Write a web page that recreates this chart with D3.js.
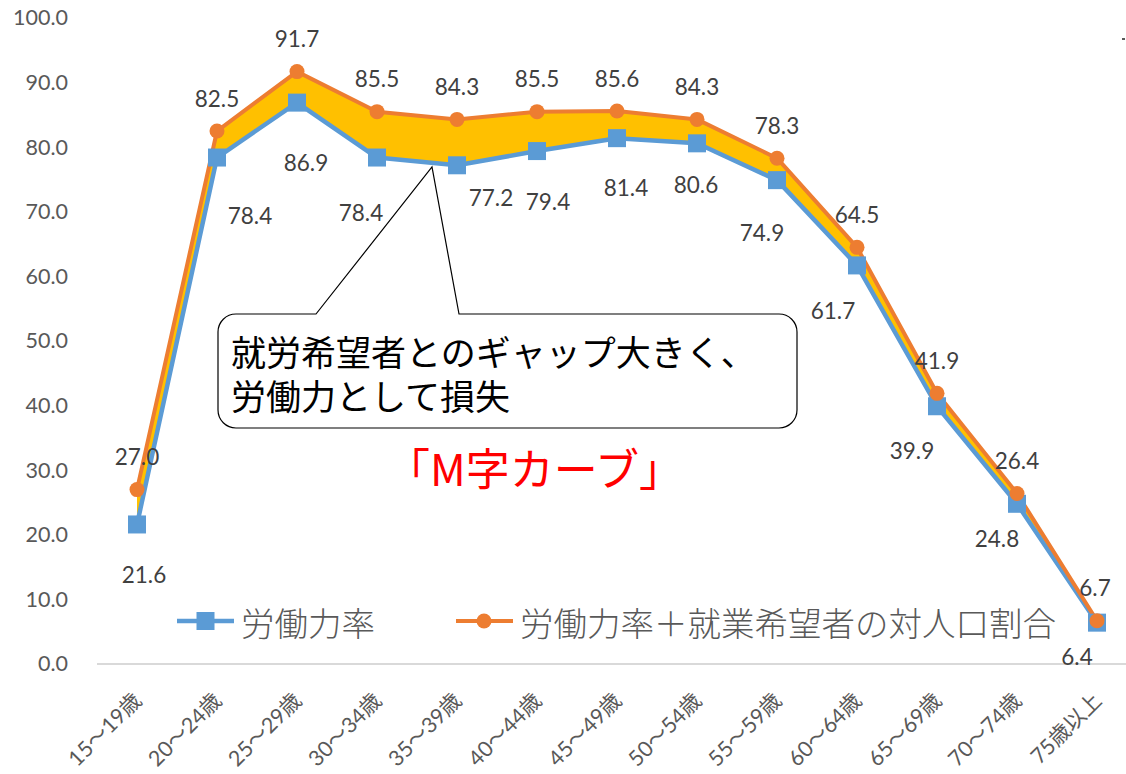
<!DOCTYPE html>
<html>
<head>
<meta charset="utf-8">
<script src="https://cdn.jsdelivr.net/npm/d3@7"></script>
<style>
  body { margin: 0; background: #fff; }
  svg { display: block; font-family: "Lato", "Noto Sans CJK JP", sans-serif; }
</style>
</head>
<body>
<svg id="chart"></svg>
<script>
// age groups
const ages = ["15～19歳", "20～24歳", "25～29歳", "30～34歳", "35～39歳", "40～44歳", "45～49歳",
  "50～54歳", "55～59歳", "60～64歳", "65～69歳", "70～74歳", "75歳以上"];
// 労働力率
const laborRate = [21.6, 78.4, 86.9, 78.4, 77.2, 79.4, 81.4, 80.6, 74.9, 61.7, 39.9, 24.8, 6.4];
// 労働力率＋就業希望者の対人口割合
const laborPlusHope = [27.0, 82.5, 91.7, 85.5, 84.3, 85.5, 85.6, 84.3, 78.3, 64.5, 41.9, 26.4, 6.7];
const yTicks = [0, 10, 20, 30, 40, 50, 60, 70, 80, 90, 100];
const seriesNames = ["労働力率", "労働力率＋就業希望者の対人口割合"];

// hand-placed label nudges (excel labels were dragged around)
const blueDx = [7, 33, 9, -16, 34, 11, 9, -1, -15, -24, -25, -20, -20];
const blueDy = [50, 58, 60, 55, 32, 50, 49, 41, 52, 45, 44, 35, 34];

const width = 1126, height = 774;
const blue = "#5B9BD5", orange = "#ED7D31", gold = "#FFC000";

const svg = d3.select("#chart").attr("width", width).attr("height", height);

const x = d3.scaleBand().domain(ages).range([97, 1137]).padding(0);
const cx = (d) => x(d) + x.bandwidth() / 2;
const y = d3.scaleLinear().domain([0, 100]).range([664, 18]);

const rows = ages.map((a, i) => ({ age: a, lo: laborRate[i], hi: laborPlusHope[i], i }));

// y axis labels
svg.append("g")
  .attr("transform", "translate(97,0)")
  .call(d3.axisLeft(y).tickValues(yTicks).tickSize(0).tickPadding(29).tickFormat(d3.format(".1f")))
  .call((g) => g.select(".domain").remove())
  .selectAll("text")
  .attr("font-family", "Lato, 'Noto Sans CJK JP', sans-serif")
  .attr("font-size", 21.5)
  .attr("fill", "#595959");

// x axis line
svg.append("line")
  .attr("x1", 97).attr("x2", width)
  .attr("y1", y(0)).attr("y2", y(0))
  .attr("stroke", "#d9d9d9").attr("stroke-width", 2);

// x labels, rotated
svg.append("g")
  .selectAll("text")
  .data(ages)
  .join("text")
  .attr("transform", (d) => `translate(${cx(d) + 6},${y(0) + 38}) rotate(-45)`)
  .attr("text-anchor", "end")
  .attr("font-size", 21.5)
  .attr("fill", "#595959")
  .text((d) => d);

// gap area
const area = d3.area()
  .x((d) => cx(d.age))
  .y0((d) => y(d.lo))
  .y1((d) => y(d.hi));

svg.append("path").datum(rows).attr("d", area).attr("fill", gold);

const lineLo = d3.line().x((d) => cx(d.age)).y((d) => y(d.lo));
const lineHi = d3.line().x((d) => cx(d.age)).y((d) => y(d.hi));

svg.append("path").datum(rows).attr("d", lineLo)
  .attr("fill", "none").attr("stroke", blue).attr("stroke-width", 4.5).attr("stroke-linejoin", "round");
svg.append("path").datum(rows).attr("d", lineHi)
  .attr("fill", "none").attr("stroke", orange).attr("stroke-width", 4).attr("stroke-linejoin", "round");

svg.append("g").selectAll("rect")
  .data(rows)
  .join("rect")
  .attr("x", (d) => cx(d.age) - 9)
  .attr("y", (d) => y(d.lo) - 9)
  .attr("width", 18).attr("height", 18)
  .attr("fill", blue);

svg.append("g").selectAll("circle")
  .data(rows)
  .join("circle")
  .attr("cx", (d) => cx(d.age))
  .attr("cy", (d) => y(d.hi))
  .attr("r", 7.5)
  .attr("fill", orange);

// data labels
svg.append("g").selectAll("text")
  .data(rows)
  .join("text")
  .attr("x", (d) => cx(d.age) + blueDx[d.i])
  .attr("y", (d) => y(d.lo) + blueDy[d.i])
  .attr("text-anchor", "middle")
  .attr("dominant-baseline", "central")
  .attr("font-size", 22.5)
  .attr("fill", "#404040")
  .text((d) => d.lo.toFixed(1));

svg.append("g").selectAll("text")
  .data(rows)
  .join("text")
  .attr("x", (d) => cx(d.age) + (d.i === 12 ? -2 : 0))
  .attr("y", (d) => y(d.hi) - 33)
  .attr("text-anchor", "middle")
  .attr("dominant-baseline", "central")
  .attr("font-size", 22.5)
  .attr("fill", "#404040")
  .text((d) => d.hi.toFixed(1));

// callout
const bx0 = 218, bx1 = 797, by0 = 314, by1 = 428, r = 18;
const ax = 432, ay = 167;
const callout = d3.path();
callout.moveTo(bx0 + r, by0);
callout.lineTo(316, by0);
callout.lineTo(ax, ay);
callout.lineTo(459, by0);
callout.lineTo(bx1 - r, by0);
callout.arcTo(bx1, by0, bx1, by0 + r, r);
callout.lineTo(bx1, by1 - r);
callout.arcTo(bx1, by1, bx1 - r, by1, r);
callout.lineTo(bx0 + r, by1);
callout.arcTo(bx0, by1, bx0, by1 - r, r);
callout.lineTo(bx0, by0 + r);
callout.arcTo(bx0, by0, bx0 + r, by0, r);
callout.closePath();
svg.append("path").attr("d", callout.toString())
  .attr("fill", "#fff").attr("stroke", "#000").attr("stroke-width", 1.2);

const note = svg.append("text")
  .attr("font-family", "'Noto Sans CJK JP', sans-serif")
  .attr("font-size", 35)
  .attr("fill", "#000");
note.append("tspan").attr("x", 231).attr("y", 366).text("就労希望者とのギャップ大きく、");
note.append("tspan").attr("x", 231).attr("y", 410).text("労働力として損失");

svg.append("text")
  .attr("x", 386).attr("y", 486)
  .attr("font-family", "'Noto Sans CJK JP', sans-serif")
  .attr("font-size", 44)
  .attr("fill", "#FF0000")
  .text("「M字カーブ」");

// legend
const legend = svg.append("g").attr("font-family", "'Noto Sans CJK JP', sans-serif");
const lg1 = legend.append("g").attr("transform", "translate(177,621)");
lg1.append("line").attr("x1", 0).attr("x2", 57).attr("stroke", blue).attr("stroke-width", 4.5);
lg1.append("rect").attr("x", 19.5).attr("y", -9).attr("width", 18).attr("height", 18).attr("fill", blue);
lg1.append("text").attr("x", 64).attr("dominant-baseline", "central").attr("font-size", 33.5)
  .attr("font-weight", 300).attr("fill", "#595959").text(seriesNames[0]);

const lg2 = legend.append("g").attr("transform", "translate(456,621)");
lg2.append("line").attr("x1", 0).attr("x2", 57).attr("stroke", orange).attr("stroke-width", 4);
lg2.append("circle").attr("cx", 28).attr("r", 7.5).attr("fill", orange);
lg2.append("text").attr("x", 64).attr("dominant-baseline", "central").attr("font-size", 33.5)
  .attr("font-weight", 300).attr("fill", "#595959").text(seriesNames[1]);

// stray mark at top right
svg.append("rect").attr("x", 1122).attr("y", 38).attr("width", 3).attr("height", 2).attr("fill", "#595959");
</script>
</body>
</html>
